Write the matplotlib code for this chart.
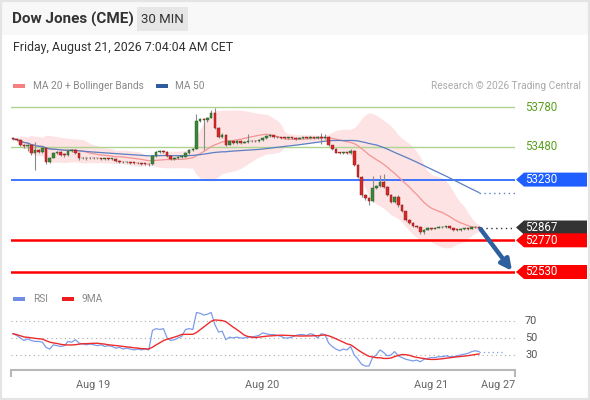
import matplotlib
matplotlib.use("Agg")
import matplotlib.pyplot as plt
import matplotlib.transforms as mtransforms
from matplotlib.patches import Rectangle, Polygon
import pandas as pd

plt.rcParams['font.family'] = ['Roboto', 'DejaVu Sans']

W, H = 590, 400

### data
title = "Dow Jones (CME)"
period = "30 MIN"
stamp = "Friday, August 21, 2026 7:04:04 AM CET"

closes = [53538, 53530, 53492, 53485, 53492, 53431, 53454, 53440, 53470, 53363,
          53395, 53430, 53440, 53420, 53415, 53445, 53455, 53430, 53390, 53395,
          53390, 53395, 53390, 53390, 53385, 53390, 53385, 53385, 53370, 53365,
          53360, 53362, 53358, 53355, 53352, 53350, 53348, 53345, 53410, 53440,
          53445, 53440, 53410, 53385, 53390, 53400, 53405, 53430, 53455, 53465,
          53675, 53690, 53678, 53700, 53735, 53620, 53555, 53570, 53495, 53520,
          53505, 53525, 53510, 53515, 53520, 53525, 53520, 53530, 53545, 53560,
          53565, 53555, 53550, 53548, 53545, 53548, 53545, 53540, 53545, 53548,
          53545, 53550, 53545, 53552, 53545, 53555, 53490, 53465, 53435, 53430,
          53432, 53430, 53450, 53340, 53250, 53110, 53090, 53065, 53170, 53180,
          53215, 53175, 53115, 53060, 53095, 53035, 52990, 52925, 52900, 52880,
          52870, 52830, 52850, 52860, 52858, 52865, 52868, 52872, 52875, 52860,
          52850, 52848, 52852, 52860, 52858, 52868, 52872, 52867]
highs = [53552, 53545, 53535, 53500, 53500, 53498, 53515, 53462, 53478, 53475,
         53400, 53438, 53448, 53445, 53428, 53452, 53465, 53462, 53435, 53402,
         53400, 53402, 53400, 53397, 53395, 53396, 53395, 53392, 53390, 53376,
         53370, 53368, 53367, 53364, 53360, 53358, 53356, 53354, 53418, 53450,
         53455, 53452, 53446, 53415, 53398, 53406, 53412, 53437, 53462, 53472,
         53730, 53700, 53698, 53708, 53760, 53775, 53628, 53580, 53575, 53528,
         53526, 53532, 53530, 53522, 53575, 53532, 53530, 53537, 53552, 53568,
         53572, 53570, 53560, 53556, 53554, 53555, 53553, 53550, 53552, 53555,
         53553, 53557, 53555, 53560, 53585, 53575, 53560, 53495, 53470, 53440,
         53440, 53438, 53460, 53455, 53345, 53255, 53118, 53100, 53255, 53190,
         53265, 53270, 53180, 53122, 53105, 53110, 53042, 52995, 52932, 52906,
         52888, 52876, 52858, 52868, 52866, 52872, 52876, 52880, 52882, 52880,
         52865, 52856, 52860, 52867, 52866, 52875, 52880, 52878]
lows = [53530, 53522, 53485, 53470, 53450, 53420, 53303, 53432, 53430, 53350,
        53355, 53390, 53425, 53412, 53405, 53410, 53440, 53425, 53382, 53385,
        53382, 53385, 53384, 53383, 53378, 53380, 53378, 53377, 53364, 53358,
        53353, 53354, 53350, 53348, 53345, 53343, 53340, 53336, 53340, 53405,
        53435, 53432, 53402, 53375, 53380, 53385, 53395, 53400, 53425, 53450,
        53460, 53665, 53455, 53670, 53695, 53612, 53545, 53548, 53488, 53490,
        53498, 53500, 53502, 53504, 53508, 53514, 53512, 53515, 53525, 53540,
        53552, 53548, 53543, 53541, 53538, 53540, 53538, 53533, 53535, 53540,
        53538, 53540, 53538, 53540, 53500, 53540, 53482, 53458, 53428, 53422,
        53424, 53422, 53425, 53330, 53240, 53100, 53078, 53040, 53060, 53160,
        53172, 53168, 53105, 53050, 53052, 53025, 52982, 52915, 52892, 52872,
        52862, 52815, 52820, 52845, 52850, 52852, 52860, 52862, 52866, 52853,
        52843, 52840, 52842, 52847, 52850, 52852, 52862, 52860]
# continuous contract: each bar opens where the previous one closed
opens = [53545] + closes[:-1]

rsi = [55, 53, 50, 47, 49, 47, 46, 46, 45, 39,
       37, 42, 41, 40, 41, 46, 45, 48, 44, 43,
       42, 43, 42, 41, 42, 40, 41, 40, 38, 39,
       37, 38, 37, 36, 37, 36, 37, 36, 59, 61,
       60, 61, 50, 47, 48, 50, 52, 60, 61, 60,
       80, 79, 77, 78, 80, 66, 57, 58, 48, 51,
       50, 51, 50, 50, 51, 51, 52, 53, 56, 55,
       54, 54, 53, 52, 50, 50, 51, 53, 54, 54,
       53, 55, 54, 50, 55, 54, 44, 40, 37, 35,
       37, 36, 40, 30, 25, 19, 17, 17, 27, 30,
       36, 33, 29, 30, 34, 29, 27, 25, 24, 23,
       24, 22, 25, 26, 27, 27, 28, 28, 29, 28,
       28, 29, 30, 31, 32, 34, 35, 34]

resistances = [53780, 53480]
pivot = 53230
supports = [52770, 52530]
last_price = 52867
target = 52530

day_labels = ['Aug 19', 'Aug 20', 'Aug 21', 'Aug 27']
day_pos = [21.8, 67.8, 113.9, 132.2]
rsi_levels = [70, 50, 30]

### colors
GREEN_C = '#3a873a'
RED_C = '#d62a2a'
WICK = '#8a8a8a'
MA20_C = '#f39494'
BAND_C = '#fde3e3'
MA50_C = '#5a7fc2'
LEVEL_GREEN = '#aed48f'
LABEL_GREEN = '#5aa11e'
BLUE = '#1f5fff'
RED = '#ff0000'
DARK = '#333333'

fig = plt.figure(figsize=(W / 100, H / 100), dpi=100)


def px_axes(l, t, r, b):
    return fig.add_axes([l / W, 1 - b / H, (r - l) / W, (b - t) / H])


### header / frame
bg = px_axes(0, 0, W, H)
bg.set_xlim(0, W)
bg.set_ylim(H, 0)
bg.axis('off')
bg.add_patch(Rectangle((0, 0), W, 35, color='#f8f8f8', lw=0))
bg.add_patch(Rectangle((0.8, 0.8), W - 1.6, H - 1.6, fill=False, ec='#e4e4e4', lw=1.6))
bg.text(12, 19, title, fontsize=11, fontweight='bold', color=DARK, va='center')
bg.add_patch(Rectangle((137, 7), 51, 24, color='#e6e6e6', lw=0))
bg.text(162.5, 19.5, period, fontsize=9.5, color=DARK, va='center', ha='center')
bg.text(13, 48, stamp, fontsize=8.9, color=DARK, va='center')

bg.add_patch(Rectangle((13, 84), 12, 4, color='#f58080', lw=0))
bg.text(33, 86, 'MA 20 + Bollinger Bands', fontsize=7.3, color='#888888', va='center')
bg.add_patch(Rectangle((156, 84), 12, 4, color='#2f5c9e', lw=0))
bg.text(175, 86, 'MA 50', fontsize=7.3, color='#888888', va='center')
bg.text(581, 86, 'Research \u00a9 2026 Trading Central', fontsize=7.3, color='#aaaaaa',
        va='center', ha='right')

bg.add_patch(Rectangle((13, 297), 12, 4, color='#6f8fe6', lw=0))
bg.text(33, 299, 'RSI', fontsize=7.3, color='#888888', va='center')
bg.add_patch(Rectangle((62, 297), 12, 4, color='#ee1c1c', lw=0))
bg.text(82, 299, '9MA', fontsize=7.3, color='#888888', va='center')

### price panel
ax = px_axes(11, 97, 515, 285)
ax.patch.set_alpha(0)
ax.axis('off')
xmin, xmax = -0.55, 136.8
ax.set_xlim(xmin, xmax)
ax.set_ylim(52431.5, 53855.8)

x = list(range(len(closes)))
s = pd.Series(closes, dtype=float)
ma20 = s.rolling(20, min_periods=1).mean()
sd20 = s.rolling(20, min_periods=1).std(ddof=0)
ma50 = s.rolling(50, min_periods=1).mean()

ax.fill_between(x, ma20 - 2 * sd20, ma20 + 2 * sd20, color=BAND_C, lw=0, zorder=1)

for lv in resistances:
    ax.axhline(lv, color=LEVEL_GREEN, lw=1.0, zorder=2)
ax.axhline(pivot, color=BLUE, lw=1.2, zorder=2)
for lv in supports:
    ax.axhline(lv, color=RED, lw=1.8, zorder=2)

ax.plot(x, ma20, color=MA20_C, lw=0.9, zorder=3)
ax.plot(x, ma50, color=MA50_C, lw=0.9, zorder=3)
ax.plot([x[-1], xmax], [ma50.iloc[-1]] * 2, color=MA50_C, lw=1, dashes=(1, 2.5), zorder=3)
ax.plot([x[-1] + 0.5, xmax], [last_price] * 2, color=DARK, lw=1, dashes=(1, 2.5), zorder=3)

ax.vlines(x, lows, highs, color=WICK, lw=0.8, zorder=4)
body_col = [GREEN_C if c >= o else RED_C for o, c in zip(opens, closes)]
edge_col = ['#245a24' if c >= o else '#8e1616' for o, c in zip(opens, closes)]
ax.bar(x, [max(abs(c - o), 6) for o, c in zip(opens, closes)],
       bottom=[min(o, c) for o, c in zip(opens, closes)], width=0.72,
       color=body_col, edgecolor=edge_col, lw=0.3, zorder=5)

ax.annotate('', xy=(136.0, target + 8), xytext=(127.4, 52856),
            arrowprops=dict(arrowstyle='-|>', color='#2e5f9e', lw=3.2,
                            mutation_scale=16, shrinkA=0, shrinkB=0),
            annotation_clip=False, zorder=6)

### right hand labels
tr = mtransforms.blended_transform_factory(ax.transAxes, ax.transData)
fx = lambda p: (p - 11) / 504.0
hh = 7 * (53855.8 - 52431.5) / 188.0


def tag(price, color):
    pts = [(fx(516), price), (fx(524), price + hh), (fx(587), price + hh),
           (fx(587), price - hh), (fx(524), price - hh)]
    ax.add_patch(Polygon(pts, closed=True, color=color, lw=0, transform=tr, clip_on=False))
    ax.text(fx(525), price, str(price), color='white', fontsize=8.3, va='center',
            transform=tr, clip_on=False)


for lv in resistances:
    ax.text(fx(525), lv, str(lv), color=LABEL_GREEN, fontsize=8.3, va='center',
            transform=tr, clip_on=False)
tag(pivot, BLUE)
tag(last_price, DARK)
for lv in supports:
    tag(lv, RED)

### RSI panel
rx = px_axes(11, 300, 515, 370)
rx.patch.set_alpha(0)
rx.set_xlim(xmin, xmax)
rx.set_ylim(12.35, 94.7)
for sp in ['top', 'left', 'right']:
    rx.spines[sp].set_visible(False)
rx.spines['bottom'].set_color('#b8b8b8')
rx.spines['bottom'].set_linewidth(1.5)
rx.set_yticks([])
rx.set_xticks(day_pos)
rx.set_xticklabels(day_labels)
rx.tick_params(axis='x', which='major', length=0, pad=7, labelsize=7.8, labelcolor='#666666')
rx.set_xticks([xmin, xmax], minor=True)
rx.tick_params(axis='x', which='minor', length=5, width=1.5, color='#b8b8b8')

for lv in rsi_levels:
    rx.axhline(lv, color='#aaaaaa', lw=0.8, dashes=(1, 3))
    rx.text(fx(525), lv, str(lv), color='#555555', fontsize=7.8, va='center',
            transform=mtransforms.blended_transform_factory(rx.transAxes, rx.transData),
            clip_on=False)

r = pd.Series(rsi, dtype=float)
rx.plot(x, r, color='#7c9cea', lw=0.9)
rx.plot([x[-1], 134], [rsi[-1]] * 2, color='#7c9cea', lw=0.9, dashes=(1, 2.5))
rx.plot(x, r.rolling(9, min_periods=1).mean(), color='#ee2b2b', lw=1.0)

fig.savefig('out.png', dpi=100)
